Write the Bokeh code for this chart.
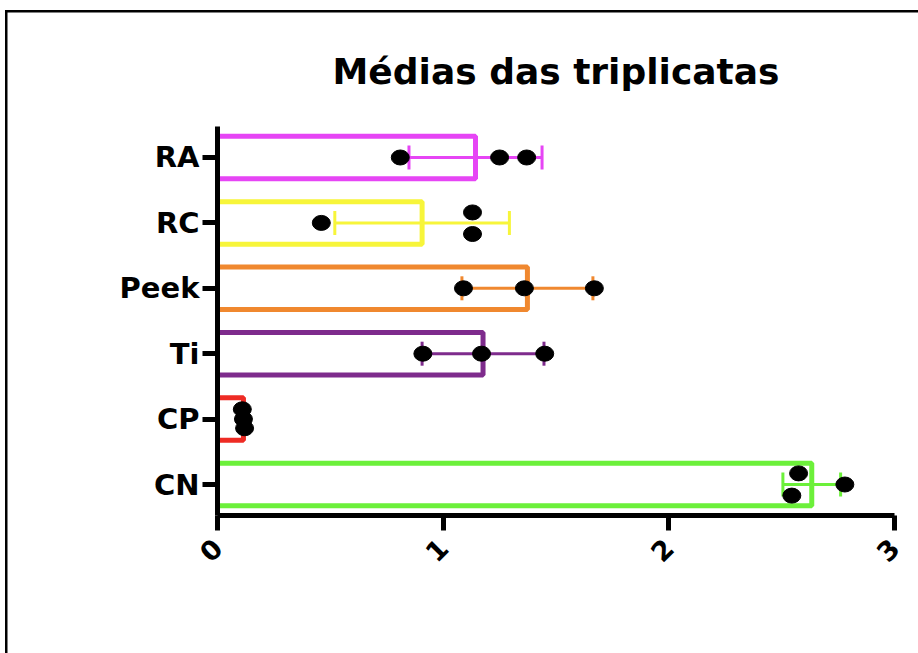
import numpy as np
from bokeh.plotting import figure
from bokeh.models import ColumnDataSource, Range1d, FixedTicker
from bokeh.embed import file_html
from bokeh.resources import INLINE

# Groups from bottom to top of the chart
groups = ["CN", "CP", "Ti", "Peek", "RC", "RA"]
colors = ["#6CF03A", "#EE2B24", "#7E2B8C", "#F0882F", "#F7F53A", "#E645F5"]

# Triplicate readings for each group
cn_vals = [2.575, 2.545, 2.78]
cp_vals = [0.11, 0.115, 0.12]
ti_vals = [0.91, 1.17, 1.45]
peek_vals = [1.09, 1.36, 1.67]
rc_vals = [0.46, 1.13, 1.13]
ra_vals = [0.81, 1.25, 1.37]
replicates = [cn_vals, cp_vals, ti_vals, peek_vals, rc_vals, ra_vals]

# Vertical spread of overlapping dots within each row
dot_spread = [[0.17, -0.17, 0.0], [0.15, 0.0, -0.14], [0, 0, 0],
              [0, 0, 0], [0.0, 0.16, -0.17], [0, 0, 0]]

x_ticks = [0, 1, 2, 3]

FONT = "DejaVu Sans"

rows = np.arange(len(groups))
means = [float(np.mean(v)) for v in replicates]
sds = [float(np.std(v, ddof=1)) for v in replicates]

bars = ColumnDataSource(dict(
    y=rows, mean=means, color=colors,
    lo=[m - s for m, s in zip(means, sds)],
    hi=[m + s for m, s in zip(means, sds)],
))

px, py = [], []
for i, vals in enumerate(replicates):
    for v, d in zip(vals, dot_spread[i]):
        px.append(v)
        py.append(i + d)
dots = ColumnDataSource(dict(x=px, y=py))

p = figure(width=918, height=653, output_backend="svg", toolbar_location=None,
           x_range=Range1d(0, 3), y_range=Range1d(-0.474, 5.474),
           min_border_left=217, min_border_right=24,
           min_border_top=126, min_border_bottom=138,
           title="Médias das triplicatas")

p.title.align = "center"
p.title.text_font = FONT
p.title.text_font_size = "36px"
p.title.text_font_style = "bold"
p.title.text_color = "black"
p.title.standoff = 70

p.grid.visible = False
p.outline_line_color = None
p.background_fill_color = None
p.border_fill_color = None

# White page with a thin black frame along the left and top edges
p.styles = {
    "background": ("linear-gradient(#000, #000) 5px 10px / 2.5px calc(100% - 10px) no-repeat, "
                   "linear-gradient(#000, #000) 5px 10px / calc(100% - 5px) 2.5px no-repeat, "
                   "#fff"),
}

# Open bars (white fill, coloured outline)
p.hbar(y="y", left=0, right="mean", height=0.65, source=bars,
       fill_color="white", line_color="color", line_width=5)

# SD error bars with caps
p.segment(x0="lo", y0="y", x1="hi", y1="y", source=bars,
          line_color="color", line_width=3)
for end in ("lo", "hi"):
    p.scatter(x=end, y="y", source=bars, marker="dash", angle=np.pi / 2,
              size=24, line_color="color", line_width=3)

# Individual replicate dots
p.ellipse(x="x", y="y", width=18, height=15, width_units="screen",
          height_units="screen", source=dots, fill_color="black",
          line_color="black")

for ax in (p.xaxis[0], p.yaxis[0]):
    ax.axis_line_width = 5
    ax.axis_line_color = "black"
    ax.major_tick_line_width = 5
    ax.major_tick_line_color = "black"
    ax.major_tick_out = 15
    ax.major_tick_in = 0
    ax.minor_tick_line_color = None
    ax.major_label_text_font = FONT
    ax.major_label_text_font_style = "bold"
    ax.major_label_text_color = "black"

p.xaxis.ticker = FixedTicker(ticks=x_ticks)
p.xaxis.major_label_orientation = np.pi / 4
p.xaxis.major_label_text_font_size = "27px"
p.xaxis.major_label_standoff = 13

p.yaxis.ticker = FixedTicker(ticks=list(rows))
p.yaxis.major_label_overrides = {int(i): g for i, g in zip(rows, groups)}
p.yaxis.major_label_text_font_size = "29px"
p.yaxis.major_label_standoff = 3

open("out.html", "w").write(file_html(p, INLINE))
